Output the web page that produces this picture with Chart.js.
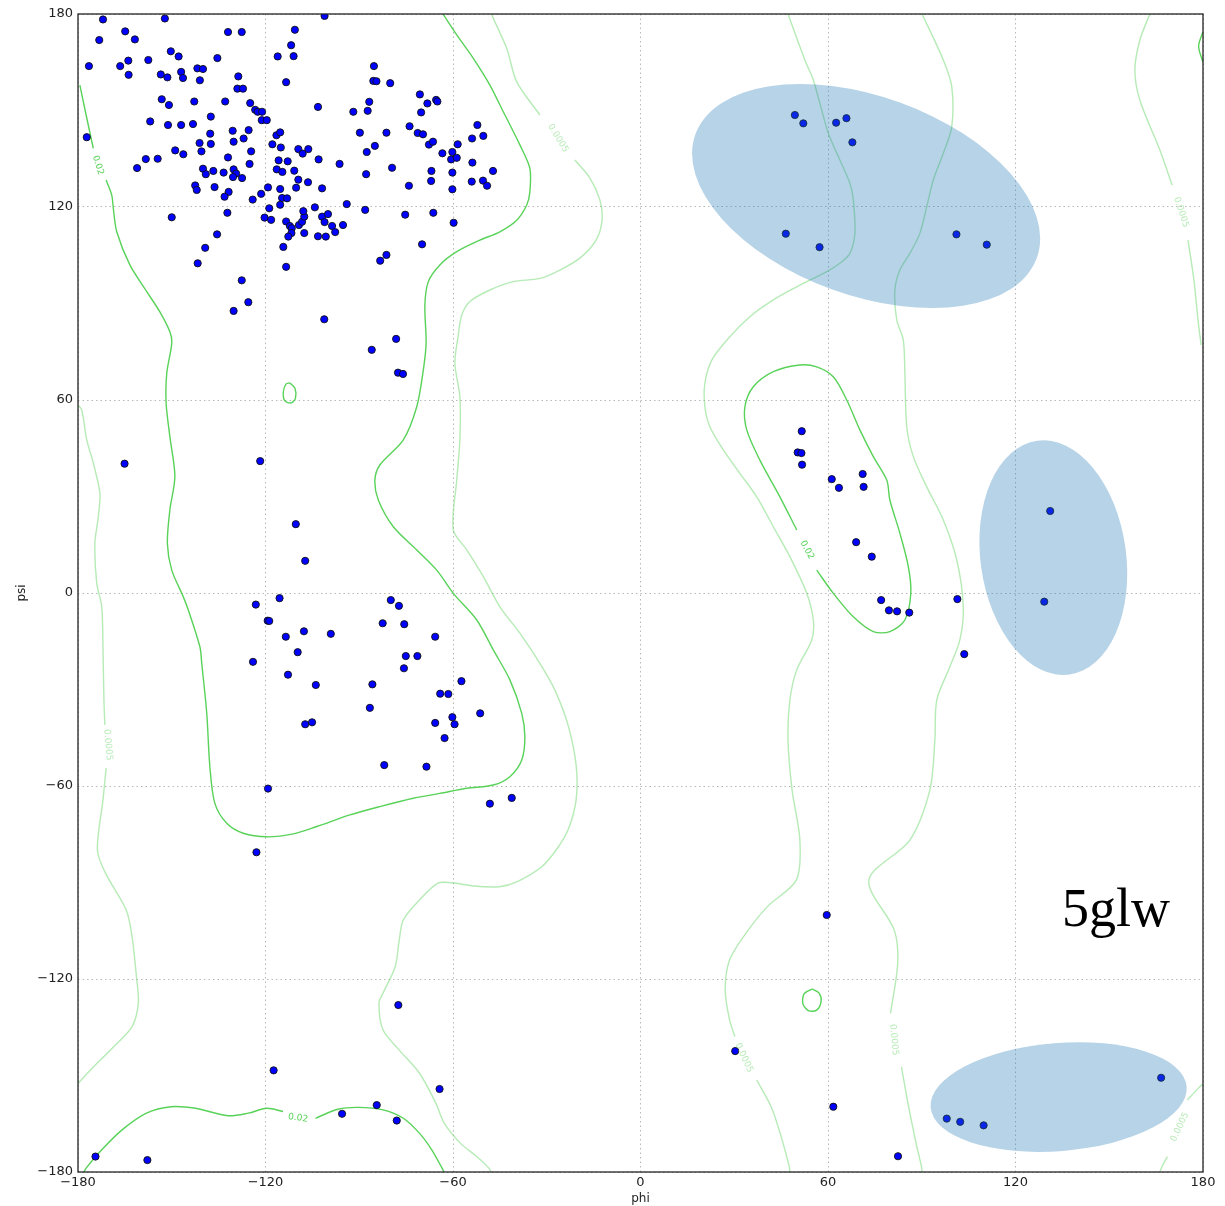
<!DOCTYPE html>
<html>
<head>
<meta charset="utf-8">
<script src="https://cdn.jsdelivr.net/npm/chart.js@4/dist/chart.umd.min.js"></script>
<style>
  html, body { margin: 0; padding: 0; background: #fff; }
  #wrap { position: relative; width: 1225px; height: 1206px; }
</style>
</head>
<body>
<div id="wrap"><canvas id="c" width="1225" height="1206"></canvas></div>
<script>
// ---------- DATA ----------
const tickValues = [-180, -120, -60, 0, 60, 120, 180];
const xTitle = 'phi';
const yTitle = 'psi';
const structureLabel = '5glw';

// residue backbone angles (phi, psi)
const phiValues = [
-172.0,-152.2,-164.9,-173.2,-161.8,-132.0,-127.6,-110.6,-111.8,-116.1,-111.0,-176.5,-166.5,-163.9,-163.8,-157.5,-150.3,-147.8,-153.5,-151.4,
-147.0,-146.4,-141.8,-140.0,-141.0,-135.4,-128.7,-129.0,-127.2,-113.4,-153.2,-150.9,-142.8,-132.9,-124.9,-123.3,-122.5,-121.1,-121.2,-119.6,
-156.9,-151.2,-147.0,-143.2,-137.5,-137.7,-130.5,-125.4,-130.2,-127.0,-141.1,-137.5,-140.5,-124.6,-148.9,-146.3,-132.0,-125.1,-158.3,-154.5,
-161.1,-177.2,-116.5,-115.3,-117.8,-115.1,-109.5,-108.1,-106.3,-115.8,-112.9,-116.4,-114.6,-110.8,-140.0,-136.7,-133.4,-130.2,-129.4,-139.1,
-130.4,-127.5,-142.5,-142.0,-136.3,-131.8,-133.1,-124.1,-121.4,-119.2,-115.3,-110.2,-109.5,-106.4,-114.7,-113.1,-115.3,-118.8,-120.3,-118.2,
-113.4,-112.2,-111.6,-111.7,-112.7,-109.3,-108.3,-107.6,-107.9,-107.6,-150.0,-132.2,-135.5,-139.3,-141.7,-114.3,-113.4,-127.6,-125.5,-130.2,
-101.1,-85.3,-85.5,-84.5,-80.1,-103.2,-91.9,-86.8,-87.3,-70.6,-68.2,-65.4,-65.0,-70.2,-89.8,-81.3,-73.9,-71.3,-69.6,-67.7,
-66.4,-85.0,-87.6,-63.4,-60.2,-60.6,-58.8,-58.5,-53.9,-52.2,-50.3,-53.8,-47.2,-60.2,-66.9,-79.5,-96.3,-103.0,-87.8,-101.9,
-74.1,-67.0,-60.2,-54.0,-50.4,-49.1,-94.0,-104.2,-88.1,-75.3,-66.3,-59.8,-101.9,-100.0,-101.1,-98.7,-97.7,-95.2,-103.2,-100.7,
-69.9,-81.3,-83.3,-101.2,-78.2,-86.0,-77.6,-76.0,-165.1,-121.7,-110.3,-107.3,-115.5,-123.1,-79.9,-77.3,-119.3,-118.8,-113.5,-107.7,
-99.1,-109.7,-124.0,-112.8,-103.9,-107.3,-105.1,-82.5,-75.6,-65.7,-75.1,-71.4,-75.7,-85.8,-57.3,-64.1,-61.5,-86.6,-51.3,-65.7,
-60.2,-59.5,-62.7,-82.0,-68.5,-119.2,-48.2,-41.2,-122.9,-77.5,-117.4,-64.3,-84.4,-95.5,-78.0,-174.4,-157.8,
49.4,52.1,62.6,65.9,67.8,46.5,57.3,101.1,110.8,51.6,50.3,51.5,51.7,61.2,63.5,71.1,71.4,69.0,74.0,77.0,
79.5,82.1,86.0,101.4,103.6,131.1,129.2,59.6,30.3,61.7,82.4,98.0,102.3,109.8,166.6
];
const psiValues = [
178.3,178.6,174.6,171.9,172.1,174.4,174.4,175.1,170.3,166.8,166.9,163.8,163.8,165.5,161.1,165.7,168.4,166.8,161.2,160.3,
162.0,160.1,163.1,162.9,159.4,166.3,160.6,156.8,156.8,158.8,153.5,151.7,152.8,152.8,152.3,150.2,149.6,149.6,147.0,147.0,
146.6,145.5,145.5,145.8,148.1,142.8,143.7,143.9,140.3,141.3,139.9,139.6,137.3,137.3,137.6,136.4,135.4,133.4,134.9,135.0,
132.1,141.7,142.3,143.2,139.5,138.5,138.0,136.6,138.0,134.5,134.2,131.7,130.9,131.3,131.9,131.2,130.7,131.7,130.4,130.2,
129.3,129.0,126.7,125.3,126.2,124.7,123.2,122.3,124.1,126.1,125.6,126.0,128.5,127.7,122.8,122.7,120.7,119.6,116.7,116.0,
115.5,114.1,113.4,111.9,110.8,114.4,115.4,117.0,118.7,111.9,116.8,118.2,111.5,107.3,102.5,107.6,101.4,97.2,90.4,87.7,
179.4,163.8,159.2,159.1,158.5,151.1,149.6,152.7,149.9,155.0,152.2,153.3,152.8,149.4,143.1,143.1,145.1,143.0,142.6,139.4,
140.3,139.0,137.1,136.7,137.1,134.8,135.3,139.5,141.3,145.5,142.1,133.8,131.2,130.7,131.2,132.2,133.4,134.8,130.2,125.8,
126.6,128.1,125.5,127.9,128.2,126.6,120.9,119.9,119.1,117.6,118.2,115.1,117.0,117.8,115.3,114.1,112.2,114.4,110.9,110.8,
108.4,105.1,103.3,85.1,79.0,75.6,68.5,68.1,40.2,41.0,21.4,10.0,-1.6,-3.6,-2.2,-4.0,-8.6,-8.7,-13.6,-11.9,
-12.7,-18.4,-21.4,-25.4,-28.6,-40.8,-40.2,-9.4,-9.7,-13.6,-19.6,-19.6,-23.4,-28.4,-27.4,-31.3,-31.4,-35.7,-37.4,-40.4,
-38.6,-40.8,-45.1,-53.5,-54.0,-60.8,-65.5,-63.7,-80.6,-128.1,-148.4,-154.2,-159.2,-161.9,-164.0,-175.2,-176.3,
148.6,146.0,146.2,147.6,140.1,111.7,107.5,111.5,108.3,50.3,43.7,43.5,39.9,35.4,32.7,37.0,33.0,15.8,11.3,-2.2,
-5.4,-5.7,-6.1,-1.9,-19.0,25.5,-2.7,-100.1,-142.4,-159.7,-175.1,-163.4,-164.4,-165.5,-150.7
];

// density contour level 0.02 (phi, psi); null = break for inline label
const contour002 = [
 [[-179.4,157.9],[-177.4,148.6],[-175.1,138.2],null,[-171.0,128.4],[-169.2,123.7],[-168.7,119.6],[-167.6,112.3],[-163.4,102.0],
  [-158.0,93.7],[-153.8,87.4],[-150.6,81.2],[-150.0,77.6],[-151.6,68.3],[-151.8,59.0],[-150.6,48.6],[-149.0,36.2],[-150.6,25.8],
  [-151.4,15.4],[-150.0,7.1],[-146.3,-1.2],[-144.7,-5.3],[-141.0,-16.7],[-140.4,-21.9],[-138.8,-37.4],[-137.8,-54.0],[-136.2,-65.4],
  [-132.4,-71.6],[-127.1,-74.7],[-119.6,-75.8],[-111.1,-74.9],[-103.6,-72.6],[-93.0,-69.0],[-83.4,-66.4],[-72.7,-63.8],[-64.2,-62.3],
  [-55.6,-60.7],[-47.1,-59.7],[-41.8,-57.1],[-38.0,-51.9],[-37.0,-44.7],[-38.0,-37.4],[-41.8,-27.0],[-47.1,-17.7],[-52.4,-8.4],
  [-59.9,-0.1],[-65.2,7.1],[-71.6,13.4],[-79.1,20.6],[-83.9,28.9],[-85.0,35.1],[-83.4,39.8],[-75.9,47.6],[-71.6,57.9],[-69.5,69.3],
  [-68.6,77.7],[-69.0,89.5],[-67.9,96.8],[-64.2,102.0],[-58.8,106.1],[-51.4,109.7],[-45.0,112.3],[-39.6,115.9],[-36.4,120.6],
  [-35.4,124.7],[-35.4,132.0],[-38.6,139.3],[-43.9,149.6],[-48.2,157.9],[-53.5,166.2],[-58.8,173.5],[-62.6,179.1],[-63.2,180]],
 [[-112.2,65.3],[-110.6,63.7],[-110.4,60.6],[-111.8,59.1],[-113.8,59.7],[-114.3,62.5],[-113.4,65.0],[-112.2,65.3]],
 [[-178.1,-180],[-177.4,-178.8],[-172.4,-173.1],[-165.9,-166.9],[-158.1,-161.7],[-150.3,-159.7],[-142.4,-160.2],[-132.0,-162.5],
  [-125.5,-161.7],[-119.6,-160.2],[-114.4,-161.2],null,[-104.0,-163.3],[-96.8,-160.5],[-90.3,-159.9],[-82.4,-160.7],[-75.9,-163.3],
  [-70.7,-168.0],[-66.8,-173.1],[-63.5,-178.8],[-62.9,-180]],
 [[56.4,7.1],[61.7,-0.1],[68.1,-7.4],[74.5,-12.0],[79.8,-12.0],[84.6,-8.4],[86.5,-0.1],[85.7,8.2],[83.0,18.6],[79.8,28.9],
  [78.8,35.1],[74.5,42.4],[70.2,50.7],[66.0,60.0],[61.7,67.2],[56.4,70.3],[51.0,70.9],[42.5,68.8],[36.1,64.1],[33.4,57.9],
  [34.0,50.7],[38.2,41.3],[44.6,29.9],[50.0,19.6]],
 [[54.9,-123.1],[57.1,-124.3],[57.8,-126.8],[56.5,-129.6],[53.9,-129.9],[52.0,-127.8],[52.3,-124.7],[54.9,-123.1]],
 [[180,174.5],[178.6,170.0],[180,165.0]]
];

// density contour level 0.0005 (phi, psi)
const contour00005 = [
 [[-47.5,180],[-47.3,179.1],[-42.8,169.3],[-39.6,158.9],[-32.2,148.6],null,[-21.0,134.6],[-16.2,129.0],[-13.0,122.2],[-12.3,115.9],
  [-14.2,109.7],[-19.4,104.1],[-25.8,100.4],[-32.2,97.8],[-40.7,96.8],[-48.2,94.2],[-54.6,90.6],[-57.2,86.4],[-58.3,80.2],
  [-59.4,71.4],[-57.8,61.0],[-57.8,47.6],[-58.8,35.1],[-59.9,19.6],[-55.6,13.4],[-50.3,5.1],[-45.0,-4.3],[-38.6,-12.5],
  [-32.2,-21.9],[-27.4,-30.2],[-23.2,-41.0],[-20.6,-53.5],[-20.6,-64.3],[-23.2,-73.7],[-27.0,-79.9],[-31.6,-85.1],[-39.4,-89.7],
  [-45.2,-91.3],[-53.1,-91.1],[-60.3,-90.1],[-64.8,-90.2],[-70.7,-95.4],[-75.9,-101.6],[-77.2,-107.9],[-78.5,-116.2],
  [-82.4,-124.4],[-83.7,-127.5],[-82.4,-135.8],[-77.2,-142.1],[-70.7,-149.3],[-65.5,-158.6],[-62.8,-164.8],[-57.6,-171.1],
  [-52.4,-175.2],[-48.5,-178.8],[-47.8,-180]],
 [[-180,58.4],[-178.8,56.9],[-177.2,47.6],[-175.1,40.4],[-173.0,31.0],[-173.5,23.7],[-174.6,15.4],[-174.0,3.0],[-172.4,-4.3],
  [-172.0,-17.7],[-171.7,-33.3],[-171.4,-41.0],null,[-171.0,-54.4],[-172.0,-64.3],[-173.8,-79.9],[-171.2,-87.1],[-164.6,-98.5],
  [-162.7,-106.8],[-161.3,-119.3],[-160.7,-127.5],[-162.7,-134.8],[-168.5,-141.0],[-175.0,-147.3],[-179.0,-151.4],[-180,-152.6]],
 [[47.2,180],[52.6,165.7],[55.3,159.5],[57.4,152.2],[60.1,142.9],[63.8,134.6],[67.0,127.4],[68.1,122.2],[68.6,111.8],[67.0,105.6],
  [63.8,102.5],[59.6,99.9],[54.2,97.3],[50.0,95.2],[42.5,91.1],[35.0,85.9],[27.6,78.6],[22.8,72.4],[20.6,65.2],[20.6,57.9],
  [22.2,51.7],[26.5,44.5],[31.8,37.2],[37.2,29.9],[42.5,20.6],[47.8,11.3],[53.2,-0.1],[55.3,-8.4],[54.8,-14.6],[50.0,-23.9],
  [47.8,-33.3],[47.2,-45.7],[48.5,-61.2],[51.0,-76.8],[49.9,-89.2],[40.6,-97.5],[33.7,-105.8],[28.5,-114.1],[27.1,-123.4],
  [28.5,-132.7],[30.2,-137.9],null,[37.2,-151.4],[41.8,-159.7],[44.7,-168.0],[47.6,-178.3],[47.8,-180]],
 [[90.1,180],[96.9,165.7],[99.6,157.4],[99.6,144.9],[96.9,136.7],[93.7,128.4],[91.6,120.1],[89.4,111.8],[86.2,105.6],[83.0,100.4],
  [81.4,94.2],[82.0,84.9],[84.1,78.6],[84.6,68.3],[85.2,51.7],[87.3,42.4],[91.6,33.0],[96.9,22.7],[101.2,10.3],[103.3,-4.3],
  [102.2,-14.6],[99.0,-22.9],[94.8,-33.3],[94.2,-45.7],[92.6,-61.2],[86.2,-76.8],[73.1,-89.2],[81.2,-104.8],[82.3,-115.1],
  [80.0,-130.7],null,[83.5,-147.3],[85.8,-159.7],[88.2,-171.1],[89.9,-178.3],[90.1,-180]],
 [[163.0,180],[159.8,171.9],[158.2,162.6],[159.8,153.2],[166.2,137.7],[170.1,126.8],null,[175.2,109.7],[177.1,97.3],[178.4,84.9],[179.4,77.1]],
 [[180,-152.6],[178.5,-154.0],[175.0,-157.6],null,[168.6,-175.2],[166.9,-178.3],[166.2,-180]]
];

// inline contour labels: text, phi, psi, angle (deg)
const contourLabelText  = ['0.02', '0.0005', '0.0005', '0.02', '0.02', '0.0005', '0.0005', '0.0005', '0.0005'];
const contourLabelPhi   = [-173.6, -26.4, -170.4, -109.6, 53.3, 33.1, 81.1, 173.0, 172.6];
const contourLabelPsi   = [133.0, 141.4, -47.2, -163.2, 13.4, -144.5, -138.9, 118.4, -166.0];
const contourLabelAngle = [72, 58, 85, 8, 62, 65, 85, 72, -65];
const contourLabelLevel = ['0.02', '0.0005', '0.0005', '0.02', '0.02', '0.0005', '0.0005', '0.0005', '0.0005'];

// highlighted regions (ellipses): centre phi/psi, half-axes in degrees, tilt in degrees
const regionPhi   = [72.2, 132.1, 133.8];
const regionPsi   = [123.4, 11.0, -156.7];
const regionHalfA = [58.1, 23.3, 41.1];
const regionHalfB = [30.9, 36.7, 16.8];
const regionTilt  = [19.9, -7.9, -4.6];

// ---------- STYLE ----------
const strongColor = 'rgba(70,205,70,0.9)';
const weakColor = 'rgba(110,215,110,0.5)';
const FONT = '"DejaVu Sans", sans-serif';

const toXY = arr => arr.map(p => p ? {x: p[0], y: p[1]} : {x: null, y: null});

const datasets = [];
contour002.forEach(seg => datasets.push({
  type: 'line', data: toXY(seg), showLine: true, borderColor: strongColor, borderWidth: 1.4,
  pointRadius: 0, fill: false, spanGaps: false, tension: 0.3, order: 2
}));
contour00005.forEach(seg => datasets.push({
  type: 'line', data: toXY(seg), showLine: true, borderColor: weakColor, borderWidth: 1.4,
  pointRadius: 0, fill: false, spanGaps: false, tension: 0.3, order: 3
}));
datasets.push({
  type: 'scatter',
  data: phiValues.map((v, i) => ({x: v, y: psiValues[i]})),
  backgroundColor: '#0000ff', borderColor: '#111', borderWidth: 0.9, pointRadius: 3.6,
  order: 1
});

const overlayPlugin = {
  id: 'overlay',
  afterDatasetsDraw(chart) {
    const ctx = chart.ctx, xs = chart.scales.x, ys = chart.scales.y;
    // contour labels
    ctx.save();
    ctx.font = '9px ' + FONT;
    ctx.textAlign = 'center'; ctx.textBaseline = 'middle';
    contourLabelText.forEach((t, i) => {
      const px = xs.getPixelForValue(contourLabelPhi[i]);
      const py = ys.getPixelForValue(contourLabelPsi[i]);
      ctx.save();
      ctx.translate(px, py);
      ctx.rotate(contourLabelAngle[i] * Math.PI / 180);
      ctx.fillStyle = contourLabelLevel[i] === '0.02' ? strongColor : weakColor;
      ctx.fillText(t, 0, 0);
      ctx.restore();
    });
    ctx.restore();
    // ellipses
    ctx.save();
    ctx.fillStyle = 'rgba(31,119,180,0.32)';
    regionPhi.forEach((c, i) => {
      const cx = xs.getPixelForValue(c), cy = ys.getPixelForValue(regionPsi[i]);
      const rx = Math.abs(xs.getPixelForValue(c + regionHalfA[i]) - cx);
      const ry = Math.abs(ys.getPixelForValue(regionPsi[i] + regionHalfB[i]) - cy);
      ctx.beginPath();
      ctx.ellipse(cx, cy, rx, ry, regionTilt[i] * Math.PI / 180, 0, Math.PI * 2);
      ctx.fill();
    });
    ctx.restore();
  },
  afterDraw(chart) {
    const ctx = chart.ctx, a = chart.chartArea;
    ctx.save();
    ctx.strokeStyle = '#222'; ctx.lineWidth = 1.3;
    ctx.strokeRect(a.left, a.top, a.right - a.left, a.bottom - a.top);
    ctx.fillStyle = '#000';
    ctx.font = '54px "Liberation Serif", "Times New Roman", serif';
    ctx.textAlign = 'left'; ctx.textBaseline = 'alphabetic';
    ctx.fillText(structureLabel, a.right - 141, a.top + 912);
    ctx.restore();
  }
};

const fmt = v => (v < 0 ? '\u2212' + Math.abs(v) : String(v));

new Chart(document.getElementById('c'), {
  data: { datasets },
  options: {
    responsive: false, animation: false, events: [],
    layout: { padding: { top: 14, right: 22, left: 0, bottom: 0 } },
    plugins: { legend: { display: false }, tooltip: { enabled: false } },
    scales: {
      x: {
        type: 'linear', min: -180, max: 180,
        afterBuildTicks: s => { s.ticks = tickValues.map(v => ({value: v})); },
        afterFit: s => { s.height = 34; },
        ticks: { callback: fmt, font: { family: FONT, size: 13 }, color: '#222', padding: 3, maxRotation: 0 },
        grid: { color: '#b8b8b8', lineWidth: 1, drawTicks: false },
        border: { display: false, dash: [1.5, 3] },
        title: { display: true, text: xTitle, font: { family: FONT, size: 12 }, color: '#222', padding: { top: 2, bottom: 0 } }
      },
      y: {
        type: 'linear', min: -180, max: 180,
        afterBuildTicks: s => { s.ticks = tickValues.map(v => ({value: v})); },
        afterFit: s => { s.width = 78; },
        ticks: { callback: fmt, font: { family: FONT, size: 13 }, color: '#222', padding: 5 },
        grid: { color: '#b8b8b8', lineWidth: 1, drawTicks: false },
        border: { display: false, dash: [1.5, 3] },
        title: { display: true, text: yTitle, font: { family: FONT, size: 12 }, color: '#222', padding: { top: 15, bottom: 0 } }
      }
    }
  },
  plugins: [overlayPlugin]
});
</script>
</body>
</html>
